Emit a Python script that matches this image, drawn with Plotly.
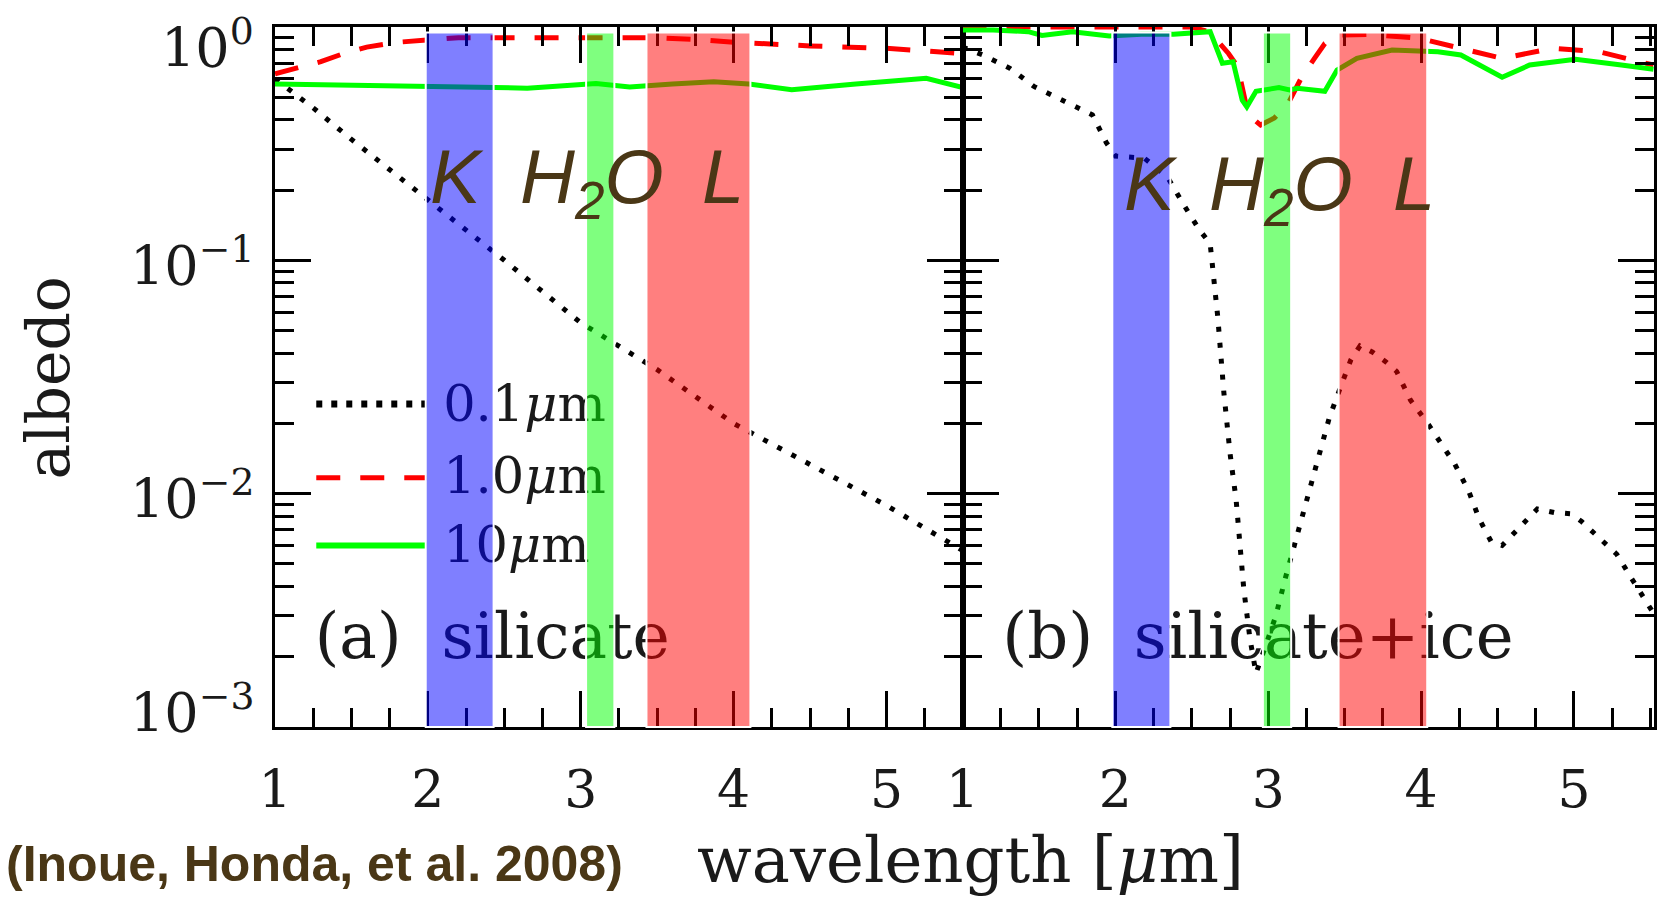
import math
import plotly.graph_objects as go

# ---------------- data ----------------
# panel (a) silicate
wl_a_01 = [1.0, 1.25, 1.5, 1.75, 2.0, 2.5, 3.0, 3.5, 4.0, 4.5, 5.0, 5.5]
alb_a_01 = [0.60, 0.45, 0.33, 0.245, 0.18, 0.10, 0.054, 0.034, 0.020, 0.0133, 0.0089, 0.0057]

wl_a_1 = [1.0, 1.15, 1.3, 1.45, 1.6, 1.8, 2.0, 2.2, 3.0, 3.5, 3.8, 4.0, 4.5, 5.0, 5.5]
alb_a_1 = [0.63, 0.67, 0.71, 0.77, 0.82, 0.86, 0.88, 0.90, 0.90, 0.90, 0.88, 0.86, 0.83, 0.81, 0.77]

wl_a_10 = [1.0, 1.5, 2.0, 2.4, 2.65, 3.1, 3.32, 3.6, 3.87, 4.1, 4.38, 4.8, 5.26, 5.5]
alb_a_10 = [0.57, 0.565, 0.556, 0.556, 0.547, 0.573, 0.553, 0.57, 0.583, 0.57, 0.538, 0.57, 0.603, 0.55]

# panel (b) silicate+ice
wl_b_01 = [1.0, 1.13, 1.31, 1.47, 1.67, 1.85, 1.94, 2.0, 2.19, 2.34, 2.44, 2.55, 2.62, 2.65, 2.67,
           2.71, 2.75, 2.79, 2.84, 2.88, 2.92, 2.98, 3.05, 3.11, 3.19, 3.29, 3.40, 3.47, 3.54, 3.6,
           3.68, 3.77, 3.84, 3.93, 4.05, 4.22, 4.31, 4.38, 4.46, 4.53, 4.62, 4.69, 4.76, 4.87, 4.98,
           5.05, 5.13, 5.20, 5.28, 5.38, 5.44, 5.53]
alb_b_01 = [0.82, 0.76, 0.665, 0.555, 0.48, 0.42, 0.32, 0.28, 0.274, 0.228, 0.176, 0.135, 0.118, 0.077, 0.057,
            0.027, 0.0149, 0.0094, 0.0039, 0.0024, 0.0017, 0.0022, 0.003, 0.0043, 0.0066, 0.0118, 0.0212, 0.0283, 0.0374, 0.043,
            0.0405, 0.0367, 0.0334, 0.0252, 0.0197, 0.0134, 0.0103, 0.0078, 0.0062, 0.006, 0.0069, 0.0077, 0.0086, 0.0083, 0.0082,
            0.0076, 0.0068, 0.0061, 0.0055, 0.0043, 0.0037, 0.003]

wl_b_1 = [1.0, 1.5, 2.0, 2.5, 2.62, 2.74, 2.80, 2.87, 2.95, 3.04, 3.13, 3.22, 3.30, 3.37, 3.45, 3.66,
          3.99, 4.26, 4.53, 4.86, 5.16, 5.52]
alb_b_1 = [1.0, 1.0, 1.0, 1.0, 0.95, 0.77, 0.676, 0.42, 0.38, 0.407, 0.47, 0.612, 0.73, 0.85, 0.924, 0.93,
           0.894, 0.81, 0.734, 0.81, 0.784, 0.687]

wl_b_10 = [1.0, 1.2, 1.43, 1.52, 1.72, 1.96, 2.17, 2.38, 2.62, 2.70, 2.77, 2.83, 2.86, 2.92, 3.07, 3.14,
           3.19, 3.37, 3.45, 3.58, 3.81, 4.04, 4.11, 4.26, 4.53, 4.71, 5.01, 5.31, 5.52]
alb_b_10 = [0.97, 0.97, 0.955, 0.92, 0.955, 0.915, 0.93, 0.93, 0.955, 0.70, 0.71, 0.486, 0.455, 0.53, 0.55, 0.537,
            0.546, 0.53, 0.654, 0.734, 0.797, 0.784, 0.784, 0.759, 0.609, 0.687, 0.727, 0.687, 0.659]

# bands (K, H2O, L) [start, end] in micron for each panel
band_names = ["K", "H2O", "L"]
bands_a = [[1.986, 2.43], [3.035, 3.22], [3.43, 4.11]]
bands_b = [[1.98, 2.36], [2.965, 3.15], [3.46, 4.04]]
band_colors = ["rgba(0,0,255,0.5)", "rgba(0,255,0,0.5)", "rgba(255,0,0,0.5)"]

legend_labels = ["0.1<i>μ</i>m", "1.0<i>μ</i>m", "10<i>μ</i>m"]
ytick_vals = [1, 0.1, 0.01, 0.001]
ytick_text = ["10<sup>0</sup>", "10<sup>−1</sup>", "10<sup>−2</sup>", "10<sup>−3</sup>"]
xtick_vals = [1, 2, 3, 4, 5]

# ---------------- geometry ----------------
W, H = 1657, 898
L, R, T, B = 275, 1657, 27, 727
PW, PH = R - L, B - T
XSPLIT = 964
PXU = 153.2  # px per micron

def px(xp):
    return (xp - L) / PW

def py(yp):
    return (B - yp) / PH

SERIF = "DejaVu Serif"
BROWN = "#4a3716"
TXT = "#1a1a1a"

dot_style = dict(color="black", width=5, dash="5px,11px")
dash_style = dict(color="red", width=5, dash="24px,20px")
solid_style = dict(color="#00ff00", width=5)

fig = go.Figure()

for wl, al, st in [(wl_a_01, alb_a_01, dot_style), (wl_a_1, alb_a_1, dash_style), (wl_a_10, alb_a_10, solid_style)]:
    fig.add_trace(go.Scatter(x=wl, y=al, mode="lines", line=st, xaxis="x", yaxis="y",
                             showlegend=False, hoverinfo="skip"))
for wl, al, st in [(wl_b_01, alb_b_01, dot_style), (wl_b_1, alb_b_1, dash_style), (wl_b_10, alb_b_10, solid_style)]:
    fig.add_trace(go.Scatter(x=wl, y=al, mode="lines", line=st, xaxis="x2", yaxis="y2",
                             showlegend=False, hoverinfo="skip"))

# hand-drawn legend inside panel (a)
leg_line_y = [0.0242, 0.0117, 0.0060]
leg_txt_y = [0.0232, 0.0114, 0.0058]
leg_styles = [dict(color="black", width=7, dash="6px,9px"), dash_style, dict(color="#00ff00", width=6)]
for lab, ly, ty, st in zip(legend_labels, leg_line_y, leg_txt_y, leg_styles):
    fig.add_trace(go.Scatter(x=[1.27, 1.99], y=[ly, ly], mode="lines", line=st, xaxis="x", yaxis="y",
                             showlegend=False, hoverinfo="skip"))
    fig.add_trace(go.Scatter(x=[2.1], y=[ty], mode="text", text=[lab], textposition="middle right",
                             textfont=dict(family=SERIF, size=51, color=TXT), xaxis="x", yaxis="y",
                             showlegend=False, hoverinfo="skip"))

# panel labels
fig.add_trace(go.Scatter(x=[1.26], y=[0.00231], mode="text", text=["(a)  silicate"], textposition="middle right",
                         textfont=dict(family=SERIF, size=63, color=TXT), xaxis="x", yaxis="y",
                         showlegend=False, hoverinfo="skip"))
fig.add_trace(go.Scatter(x=[1.26], y=[0.00231], mode="text", text=["(b)  silicate+ice"], textposition="middle right",
                         textfont=dict(family=SERIF, size=64, color=TXT), xaxis="x2", yaxis="y2",
                         showlegend=False, hoverinfo="skip"))

# bands
shapes = []
for xr, bands in [("x", bands_a), ("x2", bands_b)]:
    for (b0, b1), col in zip(bands, band_colors):
        shapes.append(dict(type="rect", xref=xr, yref="paper", x0=b0, x1=b1, y0=0, y1=0.992,
                           fillcolor=col, line=dict(color="white", width=2), layer="above"))

axis_common = dict(showline=True, linewidth=3, linecolor="black", mirror="allticks",
                   ticks="inside", ticklen=36, tickwidth=2.5, tickcolor="black",
                   showgrid=False, zeroline=False)

xcommon = dict(axis_common, tickmode="array", tickvals=xtick_vals, ticktext=[str(v) for v in xtick_vals],
               tickfont=dict(family=SERIF, size=52, color=TXT), ticklabelstandoff=15,
               minor=dict(dtick=0.25, tick0=1, ticks="inside", ticklen=19, tickwidth=2.5, tickcolor="black",
                          showgrid=False))
ycommon = dict(axis_common, type="log", range=[-3, 0], dtick=1, showticklabels=False,
               minor=dict(dtick="D1", ticks="inside", ticklen=19, tickwidth=2.5, tickcolor="black",
                          showgrid=False))

split = (XSPLIT - L) / PW
annotations = []
# y tick labels
yshifts = [-17, -2, -2, 18]
for v, t, s in zip(ytick_vals, ytick_text, yshifts):
    annotations.append(dict(xref="paper", yref="y", x=0, y=math.log10(v), text=t, showarrow=False,
                            xanchor="right", yanchor="middle", xshift=-19, yshift=s,
                            font=dict(family=SERIF, size=54, color=TXT)))
# band labels
band_lab = ["K", "H<sub>2</sub>O", "L"]
lab_x_a = [2.0, 2.59, 3.78]
lab_x_b = [2.045, 2.60, 3.80]
for txt, xa, xb in zip(band_lab, lab_x_a, lab_x_b):
    annotations.append(dict(xref="x", yref="paper", x=xa, y=py(132), text=txt, showarrow=False,
                            xanchor="left", yanchor="top",
                            font=dict(family="Liberation Sans", size=76, color=BROWN, style="italic")))
    annotations.append(dict(xref="x2", yref="paper", x=xb, y=py(139), text=txt, showarrow=False,
                            xanchor="left", yanchor="top",
                            font=dict(family="Liberation Sans", size=76, color=BROWN, style="italic")))
# axis titles
annotations.append(dict(xref="paper", yref="paper", x=px(48), y=py(378), text="albedo", textangle=-90,
                        showarrow=False, xanchor="center", yanchor="middle",
                        font=dict(family=SERIF, size=60, color=TXT)))
annotations.append(dict(xref="paper", yref="paper", x=px(972), y=py(860), text="wavelength [<i>μ</i>m]",
                        showarrow=False, xanchor="center", yanchor="middle",
                        font=dict(family=SERIF, size=64, color=TXT)))
annotations.append(dict(xref="paper", yref="paper", x=px(3), y=py(864), text="<b>(Inoue, Honda, et al. 2008)</b>",
                        showarrow=False, xanchor="left", yanchor="middle",
                        font=dict(family="Liberation Sans", size=50, color=BROWN)))

fig.update_layout(
    width=W, height=H, autosize=False,
    margin=dict(l=L, r=W - R, t=T, b=H - B, pad=0),
    paper_bgcolor="white", plot_bgcolor="white",
    showlegend=False,
    xaxis=dict(xcommon, domain=[0, split], range=[1, 1 + (XSPLIT - L) / PXU], anchor="y"),
    xaxis2=dict(xcommon, domain=[split, 1], range=[1, 1 + (R - XSPLIT) / PXU], anchor="y2"),
    yaxis=dict(ycommon, domain=[0, 1], anchor="x"),
    yaxis2=dict(ycommon, domain=[0, 1], anchor="x2"),
    shapes=shapes,
    annotations=annotations,
)

fig.write_html("out.html")
